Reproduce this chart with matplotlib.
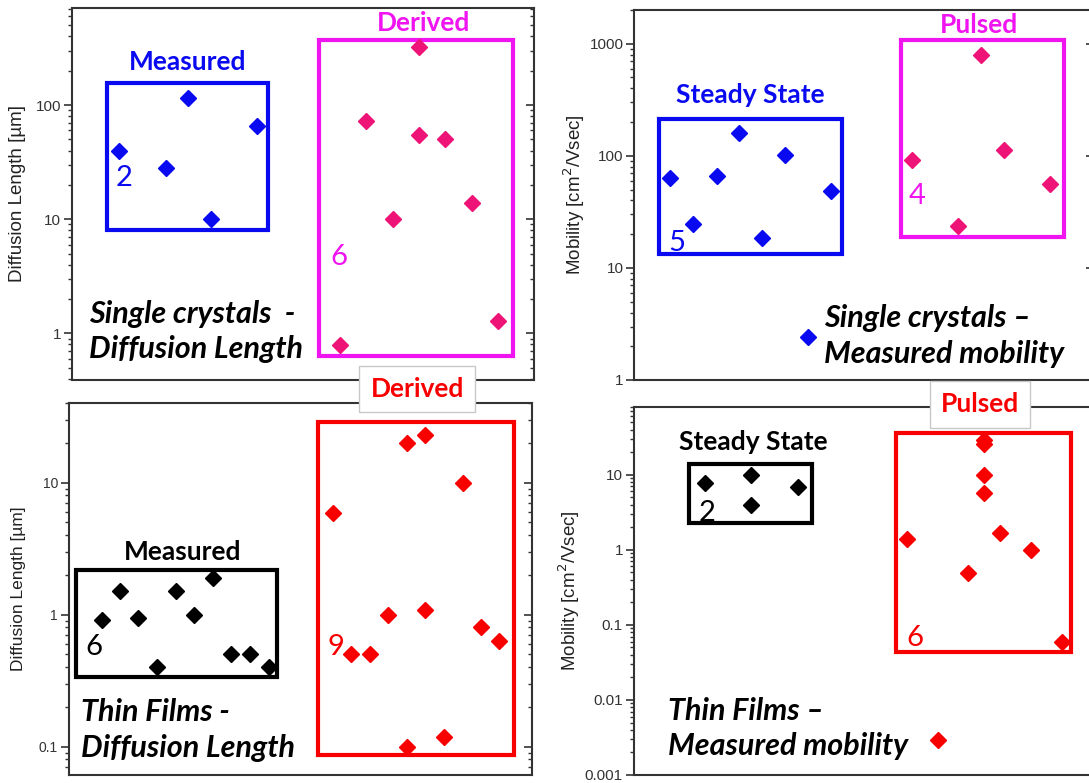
import matplotlib
matplotlib.use('Agg')
import matplotlib.pyplot as plt
from matplotlib.patches import Rectangle
from matplotlib.ticker import LogLocator, FuncFormatter, NullFormatter

W_PX, H_PX = 1089, 783

# --- single crystals, diffusion length [um] ---
sc_dl_meas_x = [10.2, 20.3, 25.1, 30.1, 40.0]
sc_dl_meas_y = [40, 28, 115, 10, 65]
sc_dl_der_x = [58.0, 63.6, 69.5, 75.1, 75.1, 80.7, 86.6, 92.2]
sc_dl_der_y = [0.79, 72, 10, 320, 55, 50, 14, 1.28]

# --- single crystals, mobility [cm2/Vsec] ---
sc_mob_ss_x = [7.7, 12.7, 18.0, 22.7, 27.7, 32.8, 42.8, 37.8]
sc_mob_ss_y = [63, 24.5, 66, 161, 18.6, 102, 49, 2.43]
sc_mob_pul_x = [60.4, 70.4, 75.4, 80.4, 90.4]
sc_mob_pul_y = [92, 23.7, 787, 113, 55.5]

# --- thin films, diffusion length [um] ---
tf_dl_meas_x = [7.1, 11.1, 14.9, 19.0, 23.1, 27.1, 31.1, 35.0, 39.1, 43.1]
tf_dl_meas_y = [0.905, 1.5, 0.95, 0.40, 1.5, 1.0, 1.9, 0.50, 0.50, 0.40]
tf_dl_der_x = [57.0, 61.0, 65.0, 68.9, 73.0, 73.0, 76.9, 76.9, 81.0, 85.0, 89.0, 92.9]
tf_dl_der_y = [5.9, 0.50, 0.50, 1.0, 19.9, 0.1, 22.7, 1.09, 0.119, 10, 0.80, 0.63]

# --- thin films, mobility [cm2/Vsec] ---
tf_mob_ss_x = [15.4, 25.4, 25.4, 35.7]
tf_mob_ss_y = [7.8, 9.8, 3.9, 6.9]
tf_mob_pul_x = [59.3, 66.0, 72.6, 76.1, 76.1, 76.1, 76.1, 79.5, 86.3, 93.0]
tf_mob_pul_y = [1.38, 0.0029, 0.49, 29, 26, 9.8, 5.8, 1.66, 0.98, 0.059]

# number of sources per group
counts = {'sc_dl': ('2', '6'), 'sc_mob': ('5', '4'), 'tf_dl': ('6', '9'), 'tf_mob': ('2', '6')}

BLUE = '#0a0af0'
MAGENTA = '#f014f0'
PINK = '#ee1477'
RED = '#f80000'
BLACK = '#000000'
CAL = 'Lato'
ARIAL = 'Liberation Sans'

fig = plt.figure(figsize=(W_PX / 100, H_PX / 100), dpi=100)
fig.patch.set_facecolor('white')


def panel_axes(left, top, right, bottom):
    return fig.add_axes([left / W_PX, 1 - bottom / H_PX,
                         (right - left) / W_PX, (bottom - top) / H_PX])


def style(ax, ylim, ylabel, tick_fs, label_fs, label_x, right_ticks=True):
    ax.set_yscale('log')
    ax.set_ylim(*ylim)
    ax.set_xlim(0, 100)
    ax.set_xticks([])
    ax.yaxis.set_major_locator(LogLocator(base=10, numticks=12))
    ax.yaxis.set_minor_locator(LogLocator(base=10, subs=range(2, 10), numticks=12))
    ax.yaxis.set_major_formatter(FuncFormatter(lambda v, p: f'{v:g}'))
    ax.yaxis.set_minor_formatter(NullFormatter())
    ax.tick_params(axis='y', which='major', direction='out', length=6, width=1.2,
                   labelsize=tick_fs, labelcolor='#333333', color='#333333', pad=2)
    ax.tick_params(axis='y', which='minor', direction='out', length=3, width=1,
                   color='#333333')
    for s in ax.spines.values():
        s.set_color('#333333')
        s.set_linewidth(1.5)
    ax.set_ylabel(ylabel, fontsize=label_fs, color='#222222', family=ARIAL)
    ax.yaxis.set_label_coords(label_x, 0.5)
    for t in ax.get_yticklabels():
        t.set_family(ARIAL)
    if right_ticks:
        tw = ax.twinx()
        tw.set_yscale('log')
        tw.set_ylim(*ylim)
        tw.yaxis.set_major_locator(LogLocator(base=10, numticks=12))
        tw.yaxis.set_minor_locator(LogLocator(base=10, subs=range(2, 10), numticks=12))
        tw.yaxis.set_major_formatter(NullFormatter())
        tw.yaxis.set_minor_formatter(NullFormatter())
        tw.tick_params(axis='y', which='major', direction='in', length=6, width=1.2, color='#333333')
        tw.tick_params(axis='y', which='minor', direction='in', length=3, width=1, color='#333333')
        for s in tw.spines.values():
            s.set_visible(False)


def group(ax, x, y, mcolor, bcolor, box, title, title_xy, count, count_xy, framed=False):
    x0, x1, y0, y1 = box
    ax.add_patch(Rectangle((x0, y0), x1 - x0, y1 - y0, fill=False, ec=bcolor, lw=3,
                           joinstyle='miter', zorder=2))
    ax.plot(x, y, 'D', ms=7.8, color=mcolor, mec=mcolor, ls='none', zorder=3)
    kw = dict(ha='center', va='center', fontsize=19, fontweight='bold', family=CAL,
              color=bcolor, zorder=5)
    if framed:
        kw['bbox'] = dict(boxstyle='square,pad=0.42', fc='white', ec='#c8c8c8', lw=1)
    ax.text(*title_xy, title, **kw)
    ax.text(*count_xy, count, ha='center', va='center', fontsize=21, family=CAL, color=bcolor)


def caption(ax, text, xy):
    ax.text(*xy, text, transform=ax.transAxes, ha='left', va='center', fontsize=22,
            fontweight='bold', fontstyle='italic', family=CAL, linespacing=1.32)


# panel 1
ax1 = panel_axes(72, 8, 534, 380)
style(ax1, (0.39, 710), 'Diffusion Length [\u00b5m]', 11, 13.5, -0.10)
group(ax1, sc_dl_meas_x, sc_dl_meas_y, BLUE, BLUE, (7.6, 42.4, 8.0, 157),
      'Measured', (25.0, 240), counts['sc_dl'][0], (11.3, 23))
group(ax1, sc_dl_der_x, sc_dl_der_y, PINK, MAGENTA, (53.5, 95.5, 0.63, 370),
      'Derived', (76.0, 527), counts['sc_dl'][1], (57.8, 4.7))
caption(ax1, 'Single crystals  -\nDiffusion Length', (0.037, 0.13))

# panel 2
ax2 = panel_axes(634.5, 10, 1094, 380)
style(ax2, (1, 2000), 'Mobility [cm$^2$/Vsec]', 11, 13.5, -0.104)
group(ax2, sc_mob_ss_x, sc_mob_ss_y, BLUE, BLUE, (5.3, 45.1, 13.2, 211),
      'Steady State', (25.1, 352), counts['sc_mob'][0], (9.2, 16.6))
group(ax2, sc_mob_pul_x, sc_mob_pul_y, PINK, MAGENTA, (58.0, 93.5, 18.7, 1070),
      'Pulsed', (75.0, 1457), counts['sc_mob'][1], (61.5, 44))
caption(ax2, 'Single crystals \u2013\nMeasured mobility', (0.412, 0.119))

# panel 3
ax3 = panel_axes(69, 403, 532, 775)
style(ax3, (0.061, 40), 'Diffusion Length [\u00b5m]', 10, 12.5, -0.093)
group(ax3, tf_dl_meas_x, tf_dl_meas_y, BLACK, BLACK, (1.5, 45.0, 0.335, 2.17),
      'Measured', (24.5, 3.0), counts['tf_dl'][0], (5.4, 0.57))
group(ax3, tf_dl_der_x, tf_dl_der_y, RED, RED, (53.7, 96.1, 0.0865, 28.7),
      'Derived', (75.2, 51), counts['tf_dl'][1], (57.7, 0.57), framed=True)
caption(ax3, 'Thin Films -\nDiffusion Length', (0.026, 0.121))

# panel 4
ax4 = panel_axes(634, 407, 1094, 775)
style(ax4, (0.001, 80), 'Mobility [cm$^2$/Vsec]', 11, 13.5, -0.112, right_ticks=False)
group(ax4, tf_mob_ss_x, tf_mob_ss_y, BLACK, BLACK, (12.0, 38.7, 2.25, 13.8),
      'Steady State', (26.0, 27.5), counts['tf_mob'][0], (15.9, 3.1))
group(ax4, tf_mob_pul_x, tf_mob_pul_y, RED, RED, (57.0, 95.1, 0.0436, 36),
      'Pulsed', (75.2, 86.5), counts['tf_mob'][1], (61.1, 0.066), framed=True)
caption(ax4, 'Thin Films \u2013\nMeasured mobility', (0.074, 0.127))

fig.savefig('out.png', dpi=100, facecolor='white')
